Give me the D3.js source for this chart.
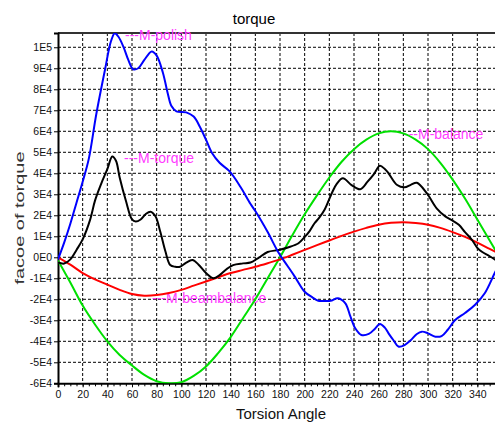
<!DOCTYPE html>
<html><head><meta charset="utf-8">
<script src="https://cdn.jsdelivr.net/npm/d3@7"></script>
<style>
html,body{margin:0;padding:0;background:#fff;overflow:hidden}
svg{display:block}
text{font-family:"Liberation Sans",Arial,sans-serif}
</style></head><body>
<svg id="chart" width="495" height="423"></svg>
<script>
// ---- data ----
const polishAngles = [0,5,10,15,20,25,31,38,43,46,49,53,57,61,65,70,76,80,85,89,92,96,104,110,115,120,125,131,139,148,156,160,170,179,186,192,200,206,211,216,221,227,233,237,241,246,252,257,261,265,268,272,276,281,286,291,295,300,306,311,316,322,330,338,346,354,358];
const polishValues = [-1000,7000,16000,26000,36000,47000,68000,89000,103000,106700,105000,100300,94000,89500,90000,94000,98000,96000,88000,78000,72000,69500,69000,67000,62200,56000,49500,45000,41000,33500,25500,22000,12000,2000,-4000,-9200,-16400,-19000,-20700,-20800,-20700,-19500,-21900,-28000,-33800,-37000,-36500,-34000,-31800,-33500,-36200,-39500,-42500,-41800,-39500,-36500,-35400,-36200,-37800,-37500,-34500,-29900,-26500,-22700,-17100,-7600,-3000];

const torqueAngles = [0,5,10,15,20,26,30,35,40,44,47,50,55,60,63,67,71,75,79,83,87,91,95,99,104,109,114,120,126,131,137,142,150,156,162,170,179,187,195,199,204,208,212,216,222,226,231,238,245,251,256,261,265,268,275,281,286,291,299,307,314,319,325,330,336,340,344,350,358];
const torqueValues = [-2500,-3000,-1000,3500,8500,17800,27000,35000,42000,48000,46000,38000,27000,18000,17000,18000,20500,21700,19500,12000,3000,-3700,-4500,-4500,-2500,-1300,-3500,-7500,-10000,-8500,-5500,-3700,-2900,-2500,-500,2500,3500,4800,6700,9000,12500,16200,19000,22500,30500,35000,37600,34400,32400,36000,39500,43600,42000,40000,34400,33300,34500,35500,30500,23300,19500,17800,15500,12000,8000,4500,2500,500,-2500];

const balanceAngles = [0,10,20,30,40,50,60,70,80,90,100,110,120,130,140,150,160,170,180,190,200,210,220,230,240,250,260,270,280,290,300,310,320,330,340,350,360];
const balanceValues = [-1500,-12000,-23000,-32000,-40000,-46500,-51500,-56000,-59000,-60000,-59500,-56500,-52000,-45500,-38000,-29000,-20000,-10000,0,10500,20500,29500,38000,45500,51500,56000,59000,60000,59000,56000,51500,45000,37000,28000,18000,8000,-2000];

const beamAngles = [0,10,20,30,40,50,60,70,80,90,100,110,120,130,140,150,160,170,180,190,200,210,220,230,240,250,260,270,280,290,300,310,320,330,340,350,360];
const beamValues = [0,-3500,-7500,-10500,-13000,-15500,-17500,-18300,-18000,-17000,-15500,-13500,-11500,-9500,-7500,-6000,-4500,-2800,-1000,1200,3500,5800,8000,10200,12200,14000,15500,16400,16700,16300,15500,14000,12000,9700,7000,4000,1000];

const xTicks = [0,20,40,60,80,100,120,140,160,180,200,220,240,260,280,300,320,340];
const yTicks = [100000,90000,80000,70000,60000,50000,40000,30000,20000,10000,0,-10000,-20000,-30000,-40000,-50000,-60000];
const yTickLabels = ["1E5","9E4","8E4","7E4","6E4","5E4","4E4","3E4","2E4","1E4","0E0","-1E4","-2E4","-3E4","-4E4","-5E4","-6E4"];

const seriesNames = ["---M-polish","---M-torque","---M-balance","---M-beambalance"];
const seriesColors = ["#0000ff","#000000","#00e000","#ff0000"];

// ---- layout ----
const L = 58, R = 502, T = 33, B = 383.3;
const svg = d3.select("#chart");
const x = d3.scaleLinear().domain([0,360]).range([L,R]);
const y = d3.scaleLinear().domain([-60000,106800]).range([B,T]);

svg.append("defs").append("clipPath").attr("id","clip")
  .append("rect").attr("x",L).attr("y",T).attr("width",R-L).attr("height",B-T);

// grid
const grid = svg.append("g");
grid.selectAll("line.v").data(xTicks.filter(d=>d>0)).join("line")
  .attr("x1",d=>x(d)).attr("x2",d=>x(d)).attr("y1",T).attr("y2",B)
  .attr("stroke","#000").attr("stroke-width",1).attr("stroke-dasharray","3,2");
grid.selectAll("line.h").data(yTicks.filter(d=>d>-60000)).join("line")
  .attr("x1",L).attr("x2",R).attr("y1",d=>y(d)).attr("y2",d=>y(d))
  .attr("stroke","#000").attr("stroke-width",1).attr("stroke-dasharray","3,2");

// top border
svg.append("line").attr("x1",L).attr("x2",R).attr("y1",T).attr("y2",T)
  .attr("stroke","#333").attr("stroke-width",2);

// x axis
const xAxis = d3.axisBottom(x).tickValues(xTicks).tickSize(4).tickPadding(3);
const gx = svg.append("g").attr("transform",`translate(0,${B})`).call(xAxis);
gx.select(".domain").attr("stroke","#000").attr("stroke-width",2);
gx.selectAll("text").attr("font-size",10.5).attr("fill","#111")
  .attr("font-family","'Liberation Sans',Arial,sans-serif");
const xMinor = d3.axisBottom(x).tickValues(d3.range(0,361,5)).tickSize(3).tickFormat("");
const gxm = svg.append("g").attr("transform",`translate(0,${B})`).call(xMinor);
gxm.select(".domain").remove();

// y axis
const yAxis = d3.axisLeft(y).tickValues(yTicks).tickSize(4).tickPadding(2)
  .tickFormat((d,i)=>yTickLabels[i]);
const gy = svg.append("g").attr("transform",`translate(${L},0)`).call(yAxis);
gy.select(".domain").attr("stroke","#000").attr("stroke-width",2);
gy.selectAll("text").attr("font-size",10.5).attr("fill","#111")
  .attr("font-family","'Liberation Sans',Arial,sans-serif");

// series labels (under lines)
const labelPos = [[125,40],[124,163],[404,139],[152,303]];
svg.selectAll("text.lab").data(seriesNames).join("text")
  .attr("class","lab").attr("x",(d,i)=>labelPos[i][0]).attr("y",(d,i)=>labelPos[i][1])
  .attr("font-size",14).attr("fill","#ff3cff").text(d=>d);

// lines
const line = d3.line().x(d=>x(d[0])).y(d=>y(d[1])).curve(d3.curveCatmullRom.alpha(0.5));
const series = [
  d3.zip(polishAngles, polishValues),
  d3.zip(torqueAngles, torqueValues),
  d3.zip(balanceAngles, balanceValues),
  d3.zip(beamAngles, beamValues)
];
const order = [2,3,1,0];
const lg = svg.append("g").attr("clip-path","url(#clip)");
order.forEach(i=>{
  lg.append("path").datum(series[i]).attr("d",line)
    .attr("fill","none").attr("stroke",seriesColors[i]).attr("stroke-width",2);
});

// titles
svg.append("text").attr("x",254).attr("y",24).attr("text-anchor","middle")
  .attr("font-size",15).attr("fill","#000").text("torque");
svg.append("text").attr("x",281).attr("y",419).attr("text-anchor","middle")
  .attr("font-size",15).attr("fill","#111")
  .attr("textLength",90).attr("lengthAdjust","spacingAndGlyphs")
  .text("Torsion Angle");
svg.append("text").attr("transform","translate(24,218) rotate(-90)")
  .attr("text-anchor","middle").attr("font-size",13).attr("fill","#333")
  .attr("textLength",133).attr("lengthAdjust","spacingAndGlyphs")
  .text("facoe of torque");
</script>
</body></html>
